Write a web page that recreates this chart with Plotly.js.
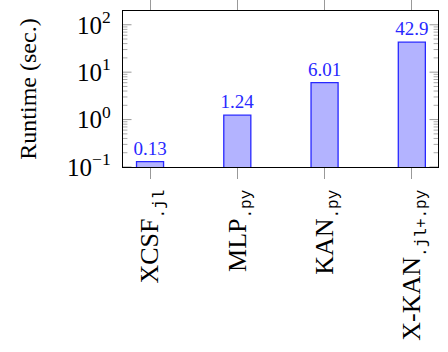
<!DOCTYPE html>
<html><head><meta charset="utf-8">
<script src="https://cdn.plot.ly/plotly-3.0.1.min.js"></script>
<style>html,body{margin:0;padding:0;background:#fff}#c{width:448px;height:352px}</style>
</head><body><div id="c"></div>
<script>
const methods = ['XCSF', 'MLP', 'KAN', 'X-KAN'];
const suffixes = ['.jl', '.py', '.py', '.jl+.py'];
const runtimes = [0.13, 1.24, 6.01, 42.9];
const runtimeLabels = ['0.13', '1.24', '6.01', '42.9'];
const yTickVals = [0.1, 1, 10, 100];
const yTickText = ['10<sup>−1</sup>', '10<sup>0</sup>', '10<sup>1</sup>', '10<sup>2</sup>'];
const yMinorVals = [0.2,0.3,0.4,0.5,0.6,0.7,0.8,0.9, 2,3,4,5,6,7,8,9, 20,30,40,50,60,70,80,90, 200];

const xpos = methods.map((m, i) => i);
const ticktext = methods.map((m, i) =>
  m + '<sub><span style="font-family:Liberation Mono;font-size:16px">' + suffixes[i] + '</span></sub>');

const serif = 'Liberation Serif';
const yRange = [-1, 2.29];

// tick decorations on both vertical sides, placed through the y scale
function tickShapes(vals, len, color) {
  const out = [];
  vals.forEach(v => {
    out.push({type: 'line', xref: 'paper', yref: 'y', x0: 0, x1: len, y0: v, y1: v,
              line: {color: color, width: 1}, layer: 'above'});
    out.push({type: 'line', xref: 'paper', yref: 'y', x0: 1 - len, x1: 1, y0: v, y1: v,
              line: {color: color, width: 1}, layer: 'above'});
  });
  return out;
}

const data = [{
  type: 'bar',
  x: xpos,
  y: runtimes,
  width: 0.31,
  marker: {color: 'rgb(179,179,255)', line: {color: 'rgb(40,40,255)', width: 1.3}},
  text: runtimeLabels,
  textposition: 'outside',
  constraintext: 'none',
  textfont: {family: serif, size: 19, color: 'rgb(40,40,255)'},
  cliponaxis: false,
  hoverinfo: 'none'
}];
const layout = {
  width: 448, height: 352,
  margin: {l: 123, r: 10, t: 11, b: 185},
  paper_bgcolor: '#fff', plot_bgcolor: '#fff',
  showlegend: false,
  font: {family: serif, color: '#000'},
  shapes: tickShapes(yTickVals, 0.027, '#999').concat(tickShapes(yMinorVals, 0.014, '#aaa')),
  xaxis: {
    range: [-0.31, 3.3],
    tickvals: xpos, ticktext: ticktext,
    tickangle: -90,
    ticks: 'outside', ticklen: 11, tickcolor: '#999', tickwidth: 1,
    showline: true, linecolor: '#000', linewidth: 1.3, mirror: 'ticks',
    showgrid: false, zeroline: false,
    tickfont: {family: serif, size: 26, color: '#000'}
  },
  yaxis: {
    type: 'log',
    range: yRange,
    tickmode: 'array',
    tickvals: yTickVals,
    ticktext: yTickText,
    ticks: '',
    ticklabelstandoff: 6,
    showline: true, linecolor: '#000', linewidth: 1.3, mirror: true,
    showgrid: false, zeroline: false,
    tickfont: {family: serif, size: 25, color: '#000'},
    title: {text: 'Runtime (sec.)', font: {family: serif, size: 24, color: '#000'}, standoff: 23}
  }
};
Plotly.newPlot('c', data, layout, {staticPlot: true, displayModeBar: false});
</script>
</body></html>
